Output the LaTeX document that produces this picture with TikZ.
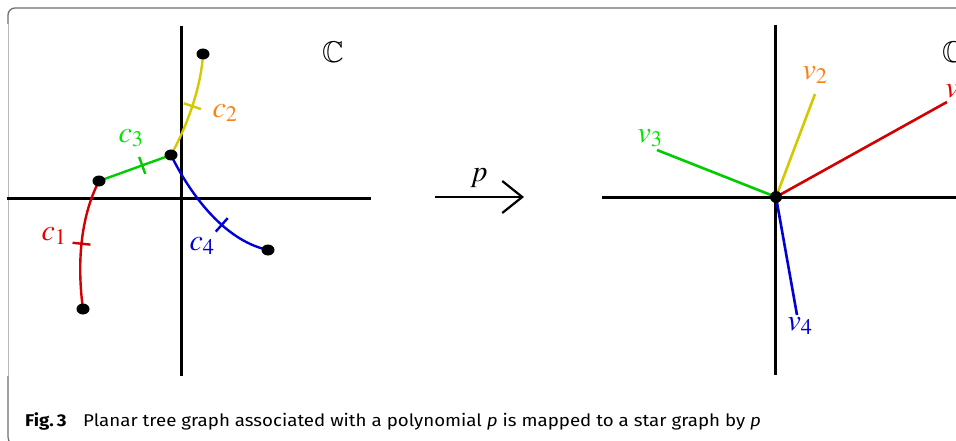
\documentclass[tikz,border=0pt]{standalone}
\usepackage{mathptmx}
\usepackage{amssymb}
\usepackage{fontspec}
\newfontfamily\capfont{Fira Sans}
\usetikzlibrary{shapes.geometric,decorations.markings,arrows.meta}
\definecolor{cred}{RGB}{210,0,0}
\definecolor{lred}{RGB}{235,0,0}
\definecolor{cyel}{RGB}{212,200,0}
\definecolor{corange}{RGB}{255,128,20}
\definecolor{cgreen}{RGB}{0,205,0}
\definecolor{lgreen}{RGB}{0,230,0}
\definecolor{cblue}{RGB}{0,0,215}
\definecolor{framedark}{RGB}{110,110,110}
\definecolor{framelight}{RGB}{185,185,185}
\tikzset{
  axis/.style={line width=3pt, black},
  curve/.style={line width=2.4pt},
  star/.style={line width=2.6pt},
  dotnode/.style={ellipse, fill=black, inner sep=0pt, minimum width=13pt, minimum height=11pt},
  lab/.style={inner sep=0pt, font=\fontsize{30}{30}\selectfont},
  tickat/.style={postaction=decorate, decoration={markings, mark=at position #1 with {\draw[line width=2.4pt] (0pt,-9pt) -- (0pt,9pt);}}},
}
\begin{document}
\begin{tikzpicture}[x=1pt,y=-1pt]
\useasboundingbox (0,0) rectangle (956,441);
\clip (0,0) rectangle (956,441);
% frame
\draw[framedark, line width=1.3pt, rounded corners=7pt] (8,24) -- (8,8) -- (970,8);
\draw[framelight, line width=1pt] (8,24) -- (8,376);
\draw[framedark, line width=1.2pt, rounded corners=9pt] (8,376) -- (8,446) -- (30,446);
% left panel axes
\coordinate (lxa) at (7,198);
\coordinate (lxb) at (371,198);
\coordinate (lya) at (181,26);
\coordinate (lyb) at (181,376);
\draw[axis] (lxa) -- (lxb);
\draw[axis] (lya) -- (lyb);
\node[lab] (lC) at (333,52) {$\mathbb{C}$};
% tree vertices
\coordinate (T) at (203,54);
\coordinate (C) at (171,155);
\coordinate (L) at (99,181);
\coordinate (B) at (83,309);
\coordinate (R) at (268,250);
% edges
\draw[curve, cred, tickat=0.5] (L) .. controls (80,218) and (77,265) .. (B);
\draw[curve, cyel, tickat=0.5] (C) .. controls (185,130) and (201,90) .. (T);
\draw[curve, cgreen, tickat=0.6] (L) -- (C);
\draw[curve, cblue, tickat=0.62] (C) .. controls (188,190) and (222,240) .. (R);
\node[dotnode] (dT) at (T) {};
\node[dotnode] (dC) at (C) {};
\node[dotnode] (dL) at (L) {};
\node[dotnode] (dB) at (B) {};
\node[dotnode] (dR) at (R) {};
% edge labels
\node[lab, text=lred] (c1) at (54,236) {$c_1$};
\node[lab, text=corange] (c2) at (225,113) {$c_2$};
\node[lab, text=lgreen] (c3) at (131,138) {$c_3$};
\node[lab, text=cblue] (c4) at (202,246) {$c_4$};
% map arrow
\coordinate (pa) at (435,197);
\coordinate (pb) at (524,197);
\draw[line width=2.2pt, -{Straight Barb[length=20pt, width=32pt, line width=2.2pt]}] (pa) -- (pb);
\node[lab] (plab) at (479,178) {$p$};
% right panel axes
\coordinate (rxa) at (602,197);
\coordinate (rxb) at (960,197);
\coordinate (rya) at (775,25);
\coordinate (ryb) at (775,375);
\draw[axis] (rxa) -- (rxb);
\draw[axis] (rya) -- (ryb);
\node[lab] (rC) at (953,52) {$\mathbb{C}$};
% star
\coordinate (O) at (776,197);
\coordinate (E1) at (947,102);
\coordinate (E2) at (815,94);
\coordinate (E3) at (657,150);
\coordinate (E4) at (797,315);
\draw[star, cred] (O) -- (E1);
\draw[star, cyel] (O) -- (E2);
\draw[star, cgreen] (O) -- (E3);
\draw[star, cblue] (O) -- (E4);
\node[dotnode, minimum width=12pt, minimum height=12pt] (dO) at (O) {};
\node[lab, text=lred] (v1) at (958,93) {$v_1$};
\node[lab, text=corange] (v2) at (815,75) {$v_2$};
\node[lab, text=lgreen] (v3) at (650,138) {$v_3$};
\node[lab, text=cblue] (v4) at (800,326) {$v_4$};
% caption
\node[anchor=base west, inner sep=0pt, font=\capfont\fontsize{17}{19}\selectfont] (cap) at (25,426)
  {\scalebox{1.1}[1]{\textbf{Fig.\,3}\hspace{15pt}Planar tree graph associated with a polynomial \textit{p} is mapped to a star graph by \textit{p}}};
\end{tikzpicture}
\end{document}
